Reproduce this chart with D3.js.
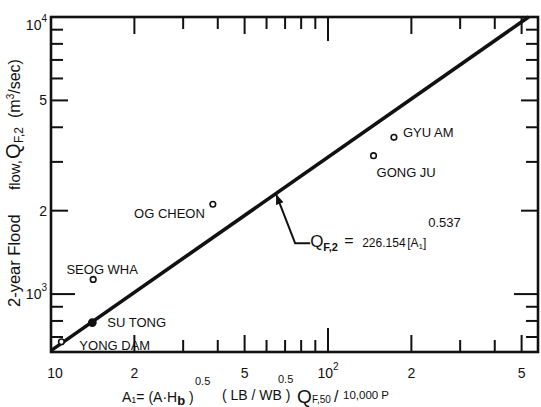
<!DOCTYPE html>
<html><head><meta charset="utf-8">
<script src="https://cdn.jsdelivr.net/npm/d3@7"></script>
<style>
body{margin:0;background:#fff}
svg{display:block}
text{font-family:'Liberation Sans',Arial,'Helvetica',sans-serif;fill:#111}
</style>
</head><body>
<svg id="chart" width="541" height="407"></svg>
<script>
// ---------- data ----------
const stations = ["YONG DAM", "SU TONG", "SEOG WHA", "OG CHEON", "GONG JU", "GYU AM"];
const a1Values = [10.9, 14.1, 14.2, 38.4, 146, 173];
const qValues  = [673, 789, 1130, 2110, 3160, 3680];
const filledPoint = [false, true, false, false, false, false];
const fitLineA = [10, 530];
const fitLineQ = [625, 10000];
const annotationA = 65;
const xDomain = [10, 573];
const yDomain = [618, 10000];
const xMinorTicks = [20, 30, 40, 50, 60, 70, 80, 90, 100, 200, 300, 400, 500];
const yMinorTicks = [700, 800, 900, 1000, 2000, 3000, 4000, 5000, 6000, 7000, 8000, 9000];
const xTickValues = [10, 20, 50, 100, 200, 500];
const xTickLabels = [["10", ""], ["2", ""], ["5", ""], ["10", "2"], ["2", ""], ["5", ""]];
const yTickValues = [1000, 2000, 5000, 10000];
const yTickLabels = [["10", "3"], ["2", ""], ["5", ""], ["10", "4"]];

// ---------- layout ----------
const svg = d3.select("#chart");
const L = 51, R = 538, T = 17, B = 352;
const x = d3.scaleLog().domain(xDomain).range([L, R]);
const y = d3.scaleLog().domain(yDomain).range([B, T]);

svg.append("rect").attr("width", 541).attr("height", 407).attr("fill", "#fff");

function tickLen(v) {
  const lg = Math.log10(v);
  if (Math.abs(lg - Math.round(lg)) < 1e-9) return 24;
  const lead = Math.round(v / Math.pow(10, Math.floor(lg)));
  return (lead === 5 || lead === 2) ? 17 : 12;
}

const g = svg.append("g");
// x ticks (bottom + top, inward)
xMinorTicks.forEach(v => {
  const px = x(v), len = tickLen(v);
  g.append("line").attr("x1", px).attr("x2", px).attr("y1", B).attr("y2", B - len)
    .attr("stroke", "#111").attr("stroke-width", 2);
  g.append("line").attr("x1", px).attr("x2", px).attr("y1", T).attr("y2", T + len)
    .attr("stroke", "#111").attr("stroke-width", 2);
});
// y ticks (left + right, inward)
yMinorTicks.forEach(v => {
  const py = y(v), len = tickLen(v);
  g.append("line").attr("x1", L).attr("x2", L + len).attr("y1", py).attr("y2", py)
    .attr("stroke", "#111").attr("stroke-width", 2);
  g.append("line").attr("x1", R).attr("x2", R - len).attr("y1", py).attr("y2", py)
    .attr("stroke", "#111").attr("stroke-width", 2);
});

// frame
svg.append("rect").attr("x", L).attr("y", T).attr("width", R - L).attr("height", B - T)
  .attr("fill", "none").attr("stroke", "#111").attr("stroke-width", 2.6);

// x tick labels
xTickValues.forEach((v, i) => {
  const [main, sup] = xTickLabels[i];
  const t = svg.append("text").attr("x", Math.max(x(v), 55)).attr("y", 378)
    .attr("text-anchor", "middle").attr("font-size", 14);
  t.append("tspan").text(main);
  if (sup) t.append("tspan").attr("dy", -8).attr("font-size", 10).text(sup);
});
// y tick labels
yTickValues.forEach((v, i) => {
  const [main, sup] = yTickLabels[i];
  const t = svg.append("text").attr("x", 47).attr("y", Math.max(y(v), 25) + 5)
    .attr("text-anchor", "end").attr("font-size", 14);
  t.append("tspan").text(main);
  if (sup) t.append("tspan").attr("dy", -8).attr("font-size", 10).text(sup);
});

// regression line
const fitPath = d3.line().x(d => x(d[0])).y(d => y(d[1]));
svg.append("path").datum(fitLineA.map((a, i) => [a, fitLineQ[i]]))
  .attr("d", fitPath).attr("fill", "none").attr("stroke", "#111").attr("stroke-width", 3.6);

// points
svg.selectAll("circle.pt").data(stations).enter().append("circle")
  .attr("class", "pt")
  .attr("cx", (d, i) => x(a1Values[i]))
  .attr("cy", (d, i) => y(qValues[i]))
  .attr("r", (d, i) => filledPoint[i] ? 3.6 : 2.8)
  .attr("fill", (d, i) => filledPoint[i] ? "#111" : "#fff")
  .attr("stroke", "#111").attr("stroke-width", 1.6);

// point labels
const labelPlacement = {
  "YONG DAM": {dx: 18, dy: 8, anchor: "start"},
  "SU TONG":  {dx: 15, dy: 4, anchor: "start"},
  "SEOG WHA": {dx: 9, dy: -5, anchor: "middle"},
  "OG CHEON": {dx: -8, dy: 14, anchor: "end"},
  "GONG JU":  {dx: 3, dy: 21, anchor: "start"},
  "GYU AM":   {dx: 9, dy: 0, anchor: "start"}
};
stations.forEach((s, i) => {
  const p = labelPlacement[s];
  svg.append("text").attr("x", x(a1Values[i]) + p.dx).attr("y", y(qValues[i]) + p.dy)
    .attr("text-anchor", p.anchor).attr("font-size", 13).text(s);
});

// annotation arrow
const slope = Math.log(fitLineQ[1] / fitLineQ[0]) / Math.log(fitLineA[1] / fitLineA[0]);
const annQ = fitLineQ[0] * Math.pow(annotationA / fitLineA[0], slope);
const tipX = x(annotationA), tipY = y(annQ);
const elbowX = tipX + 19, elbowY = tipY + 50;
svg.append("defs").append("marker").attr("id", "ah").attr("viewBox", "0 0 10 10")
  .attr("refX", 10).attr("refY", 5).attr("markerWidth", 5).attr("markerHeight", 5)
  .attr("orient", "auto").append("path").attr("d", "M0,1 L10,5 L0,9 Z").attr("fill", "#111");
svg.append("path").attr("d", `M${elbowX + 15},${elbowY} L${elbowX},${elbowY} L${tipX},${tipY + 1}`)
  .attr("fill", "none").attr("stroke", "#111").attr("stroke-width", 2)
  .attr("marker-end", "url(#ah)");
const ax = elbowX + 15, ay = elbowY + 4;
svg.append("text").attr("x", ax).attr("y", ay).attr("font-size", 17).text("Q");
svg.append("text").attr("x", ax + 13).attr("y", ay + 4).attr("font-size", 11).attr("font-weight", "bold").text("F,2");
svg.append("text").attr("x", ax + 34).attr("y", ay - 1).attr("font-size", 16).text("=");
svg.append("text").attr("x", ax + 52).attr("y", ay).attr("font-size", 12).text("226.154");
const brk = svg.append("text").attr("x", ax + 97).attr("y", ay).attr("font-size", 12);
brk.append("tspan").text("[A");
brk.append("tspan").attr("dy", 2).attr("font-size", 8).text("1");
brk.append("tspan").attr("dy", -2).text("]");
svg.append("text").attr("x", ax + 118).attr("y", ay - 20).attr("font-size", 13).text("0.537");

// x-axis title
const xt = 402;
const t1 = svg.append("text").attr("x", 122).attr("y", xt).attr("font-size", 14);
t1.append("tspan").text("A");
t1.append("tspan").attr("dy", 1).attr("font-size", 9).text("1");
t1.append("tspan").attr("dy", -1).text("= (A·H");
t1.append("tspan").attr("dy", 3).attr("font-size", 13).attr("font-weight", "bold").text("b");
t1.append("tspan").attr("dy", -3).text(" )");
svg.append("text").attr("x", 195).attr("y", 385).attr("font-size", 11).text("0.5");
svg.append("text").attr("x", 222).attr("y", xt - 2).attr("font-size", 14).text("( LB / WB )");
svg.append("text").attr("x", 278).attr("y", 383).attr("font-size", 11).text("0.5");
svg.append("text").attr("x", 297).attr("y", xt + 1).attr("font-size", 19).text("Q");
svg.append("text").attr("x", 312).attr("y", 403).attr("font-size", 10).text("F,50");
svg.append("text").attr("x", 334).attr("y", xt).attr("font-size", 16).text("/");
svg.append("text").attr("x", 343).attr("y", 399).attr("font-size", 11.5).text("10,000 P");

// y-axis title (rotated, reading upward)
function vtext(yStart, size, str, dx) {
  return svg.append("text").attr("transform", `translate(${20 + (dx || 0)},${yStart}) rotate(-90)`)
    .attr("font-size", size).text(str);
}
vtext(307, 16.5, "2-year Flood");
vtext(190, 15, "flow,");
vtext(159, 20, "Q");
vtext(143, 12, "F,2", 3);
const mt = svg.append("text").attr("transform", "translate(20,118) rotate(-90)").attr("font-size", 16);
mt.append("tspan").text("(m");
mt.append("tspan").attr("dy", -6).attr("font-size", 10).text("3");
mt.append("tspan").attr("dy", 6).text("/sec)");
</script>
</body></html>
